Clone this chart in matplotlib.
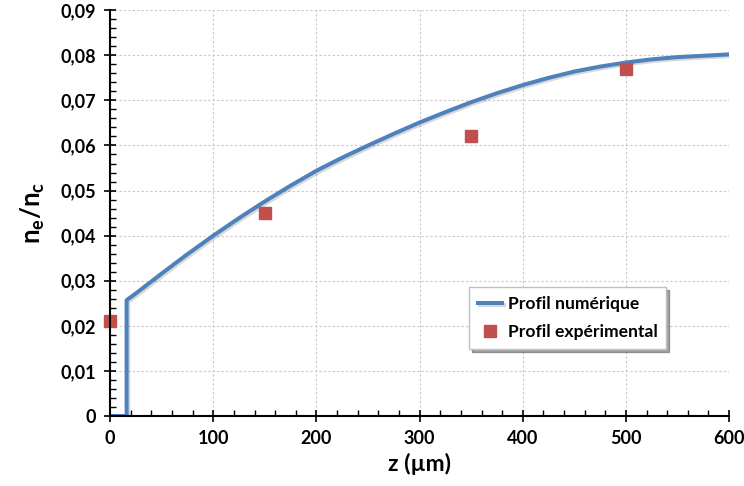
import matplotlib.pyplot as plt
import matplotlib.patheffects as pe
from matplotlib.ticker import MultipleLocator, FuncFormatter

# numerical profile
z_num = [0, 16, 16, 25, 50, 75, 100, 125, 150, 175, 200, 225, 250, 275, 300,
         325, 350, 375, 400, 425, 450, 475, 500, 525, 550, 575, 600]
ne_num = [0, 0, 0.0257, 0.0272, 0.0316, 0.0359, 0.0400, 0.0439, 0.0476,
          0.0511, 0.0544, 0.0573, 0.0600, 0.0626, 0.0651, 0.0674, 0.0696,
          0.0716, 0.0734, 0.0750, 0.0764, 0.0775, 0.0784, 0.0791, 0.0796,
          0.0799, 0.0802]

# experimental points
z_exp = [0, 150, 350, 500]
ne_exp = [0.021, 0.045, 0.062, 0.077]

plt.rcParams['font.family'] = ['Lato', 'DejaVu Sans']
plt.rcParams['mathtext.default'] = 'regular'

fig = plt.figure(figsize=(7.44, 4.86), dpi=100)
ax = fig.add_axes([0.148, 0.144, 0.832, 0.835])

blue = '#4F81BD'
red = '#C0504D'

ax.plot(z_num, ne_num, color=blue, lw=2.9, label='Profil numérique', zorder=3,
        path_effects=[pe.SimpleLineShadow(offset=(1.2, -1.2), alpha=0.15), pe.Normal()])
ax.plot(z_exp, ne_exp, ls='none', marker='s', ms=9, color=red, label='Profil expérimental',
        zorder=4, clip_on=False)

ax.set_xlim(0, 600)
ax.set_ylim(0, 0.09)
ax.xaxis.set_major_locator(MultipleLocator(100))
ax.xaxis.set_minor_locator(MultipleLocator(20))
ax.yaxis.set_major_locator(MultipleLocator(0.01))
ax.yaxis.set_minor_locator(MultipleLocator(0.002))

def comma_fmt(v, pos):
    if abs(v) < 1e-12:
        return '0'
    return f'{v:.2f}'.replace('.', ',')

ax.yaxis.set_major_formatter(FuncFormatter(comma_fmt))

ax.tick_params(which='major', direction='inout', length=8, width=1.2,
               labelsize=13, pad=6)
ax.tick_params(which='minor', direction='in', length=4, width=1)
for lab in ax.get_xticklabels() + ax.get_yticklabels():
    lab.set_fontweight('bold')

ax.grid(True, which='major', color='#c8c8c8', linestyle=(0, (2, 2)), linewidth=0.8)
ax.set_axisbelow(True)
for s in ['top', 'right']:
    ax.spines[s].set_visible(False)
for s in ['left', 'bottom']:
    ax.spines[s].set_linewidth(1.5)
    ax.spines[s].set_zorder(5)

ax.set_xlabel('z (µm)', fontsize=16.5, fontweight='bold', labelpad=4)
ax.set_ylabel(r'n$_e$/n$_c$', fontsize=18.5, fontweight='bold', labelpad=10)

leg = ax.legend(loc='lower left', bbox_to_anchor=(0.566, 0.143), frameon=True,
                fancybox=False, shadow=True, handlelength=1.4, handletextpad=0.3,
                borderpad=0.5, labelspacing=0.7, prop={'weight': 'bold', 'size': 12.6})
leg.get_frame().set_edgecolor('#bfbfbf')
leg.get_frame().set_linewidth(1)

fig.savefig('out.png', dpi=100)
